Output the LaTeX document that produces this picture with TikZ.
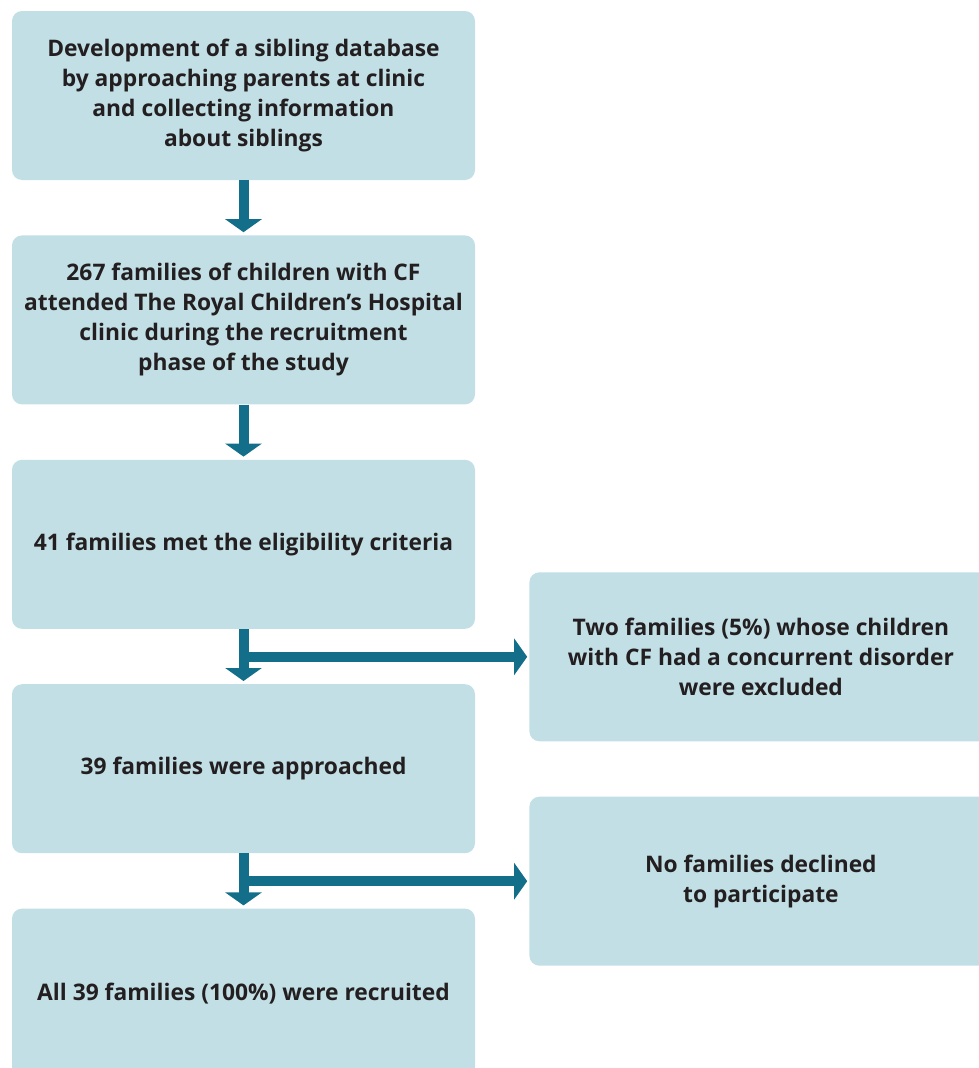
\documentclass[tikz,border=0pt]{standalone}
\usepackage{fontspec}
\setmainfont{Open Sans}
\usepackage{tikz}
\usetikzlibrary{calc}
\usetikzlibrary{positioning}
\usetikzlibrary{arrows.meta}

\definecolor{boxblue}{HTML}{C2DFE6}
\definecolor{arrowteal}{HTML}{136E8A}
\definecolor{textgray}{HTML}{231F20}

\tikzset{
  stagebox/.style={fill=boxblue,rounded corners=10pt,minimum width=463pt,minimum height=169pt,
    inner sep=0pt,align=center,text=textgray,font=\fontsize{22.8}{30}\selectfont\bfseries},
  flowarrow/.style={draw=arrowteal,line width=10pt,-{Triangle[width=36pt,length=13pt]},shorten >=3pt}
}

\begin{document}
\begin{tikzpicture}
                \useasboundingbox (0,0) rectangle (979pt,-1068pt);
                \clip (0,0) rectangle (979pt,-1068pt);
                \node[stagebox] (b1) at (243.5pt,-95.5pt) {Development of a sibling database\\by approaching parents at clinic\\and collecting information\\about siblings};
                \node[stagebox,below=55pt of b1] (b2) {267 families of children with CF\\attended The Royal Children’s Hospital\\clinic during the recruitment\\phase of the study};
                \node[stagebox,below=55pt of b2] (b3) {41 families met the eligibility criteria};
                \node[stagebox,below=55pt of b3] (b4) {39 families were approached};
                \node[stagebox,below=55pt of b4] (b5) {All 39 families (100\%) were recruited};
                \node[stagebox,anchor=west] (r1) at ($(b3.east)+(54pt,-112.5pt)$) {Two families (5\%) whose children\\with CF had a concurrent disorder\\were excluded};
                \node[stagebox,anchor=west] (r2) at ($(b4.east)+(54pt,-112.5pt)$) {No families declined\\to participate};

                \draw[flowarrow] (b1.south)--(b2.north);
                \draw[flowarrow] (b2.south)--(b3.north);
                \draw[flowarrow] (b3.south)--(b4.north);
                \draw[flowarrow] (b4.south)--(b5.north);
                \draw[flowarrow,shorten >=2pt] (b3.south |- r1.west)--(r1.west);
                \draw[flowarrow,shorten >=2pt] (b4.south |- r2.west)--(r2.west);
\end{tikzpicture}
\end{document}
